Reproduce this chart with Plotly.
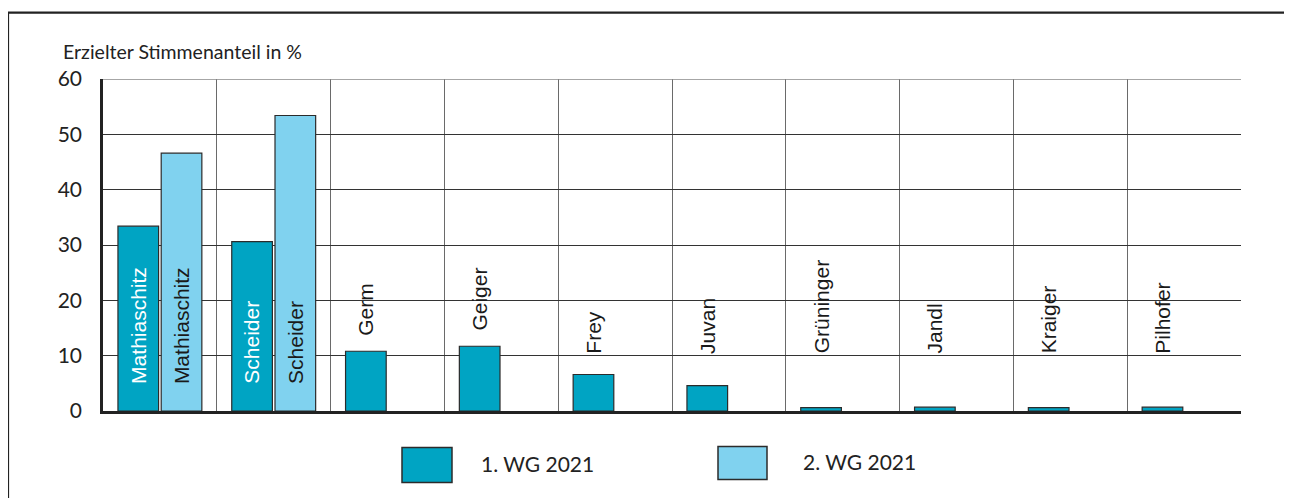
import plotly.graph_objects as go

candidates = ["Mathiaschitz", "Scheider", "Germ", "Geiger", "Frey", "Juvan",
              "Grüninger", "Jandl", "Kraiger", "Pilhofer"]
round1 = [33.4, 30.6, 10.8, 11.7, 6.6, 4.6, 0.6, 0.7, 0.6, 0.7]
round2 = [46.6, 53.4, None, None, None, None, None, None, None, None]
series_names = ["1. WG 2021", "2. WG 2021"]
y_ticks = [0, 10, 20, 30, 40, 50, 60]
y_title = "Erzielter Stimmenanteil in %"

c1 = "#00A4C3"
c2 = "#80D2EF"
edge = "#2b2b2b"

OFF = 8  # page body margin
W, H = 1292 - OFF, 498 - OFF
L = 103 - OFF
T = 79 - OFF
R = W - (1241 - OFF)
B = H - (411.5 - OFF)
pw = W - L - R
ph = H - T - B

def px_x(xp):
    return (xp - OFF - L) / pw

def px_y(yp):
    return (H - B - (yp - OFF)) / ph

fig = go.Figure()
fig.add_bar(x=candidates, y=round1, name=series_names[0], marker_color=c1,
            marker_line_color=edge, marker_line_width=1.2, showlegend=False)
fig.add_bar(x=candidates, y=round2, name=series_names[1], marker_color=c2,
            marker_line_color=edge, marker_line_width=1.2, showlegend=False)

slot = pw / len(candidates) * 0.76 / 2  # width of one bar slot in px
label_font = dict(family="Liberation Sans, Arial, sans-serif", size=21)

ann = []
for i, name in enumerate(candidates):
    v1 = round1[i]
    v2 = round2[i]
    if v2 is not None:
        ann.append(dict(x=name, y=4.5, xref="x", yref="y", text=name, textangle=-90,
                        showarrow=False, xanchor="center", yanchor="bottom",
                        xshift=-slot / 2, font=dict(label_font, color="white")))
        ann.append(dict(x=name, y=4.5, xref="x", yref="y", text=name, textangle=-90,
                        showarrow=False, xanchor="center", yanchor="bottom",
                        xshift=slot / 2, font=dict(label_font, color="#1a1a1a")))
    else:
        ann.append(dict(x=name, y=max(v1 + 2.5, 10.0), xref="x", yref="y", text=name,
                        textangle=-90, showarrow=False, xanchor="center", yanchor="bottom",
                        xshift=-slot / 2, font=dict(label_font, color="#1a1a1a")))

# axis title
ann.append(dict(x=px_x(61), y=px_y(51), xref="paper", yref="paper", text=y_title,
                showarrow=False, xanchor="left", yanchor="middle",
                font=dict(family="Lato, sans-serif", size=19.5, color="#222")))

# legend
legend_items = [(series_names[0], c1, 402, 452, 448, 483, 479),
                (series_names[1], c2, 718, 767, 447, 480, 801)]
shapes = []
for name, col, x0, x1, y0, y1, tx in legend_items:
    shapes.append(dict(type="rect", xref="paper", yref="paper",
                       x0=px_x(x0), x1=px_x(x1), y0=px_y(y1), y1=px_y(y0),
                       fillcolor=col, line=dict(color=edge, width=1.5)))
    ann.append(dict(x=px_x(tx), y=px_y((y0 + y1) / 2 - 1), xref="paper", yref="paper",
                    text=name, showarrow=False, xanchor="left", yanchor="middle",
                    font=dict(family="Lato, sans-serif", size=21, color="#222")))

# outer frame
shapes.append(dict(type="rect", xref="paper", yref="paper",
                   x0=px_x(8), x1=px_x(1330), y0=px_y(530), y1=px_y(12.5),
                   line=dict(color="#222", width=2.2), fillcolor="rgba(0,0,0,0)", layer="below"))
# top grid line
shapes.append(dict(type="line", xref="paper", yref="y", x0=0, x1=1, y0=60, y1=60,
                   line=dict(color="#888", width=1.5)))

fig.update_layout(
    width=W, height=H,
    margin=dict(l=L, r=R, t=T, b=B),
    paper_bgcolor="white", plot_bgcolor="white",
    barmode="group", bargap=0.24, bargroupgap=0.06,
    annotations=ann, shapes=shapes,
    font=dict(family="Lato, sans-serif"),
)
fig.update_xaxes(type="category", tickson="boundaries", showgrid=True, gridcolor="#6a6a6a",
                 gridwidth=1, showticklabels=False, ticks="", showline=True,
                 linecolor="#222", linewidth=3, zeroline=False)
fig.update_yaxes(range=[0, 60], tickvals=y_ticks, showgrid=True, gridcolor="#333",
                 gridwidth=1, showline=True, linecolor="#222", linewidth=2.5,
                 zeroline=False, ticks="outside", ticklen=14, tickcolor="rgba(0,0,0,0)",
                 tickfont=dict(family="Lato, sans-serif", size=21, color="#222"))

fig.write_html("out.html")
